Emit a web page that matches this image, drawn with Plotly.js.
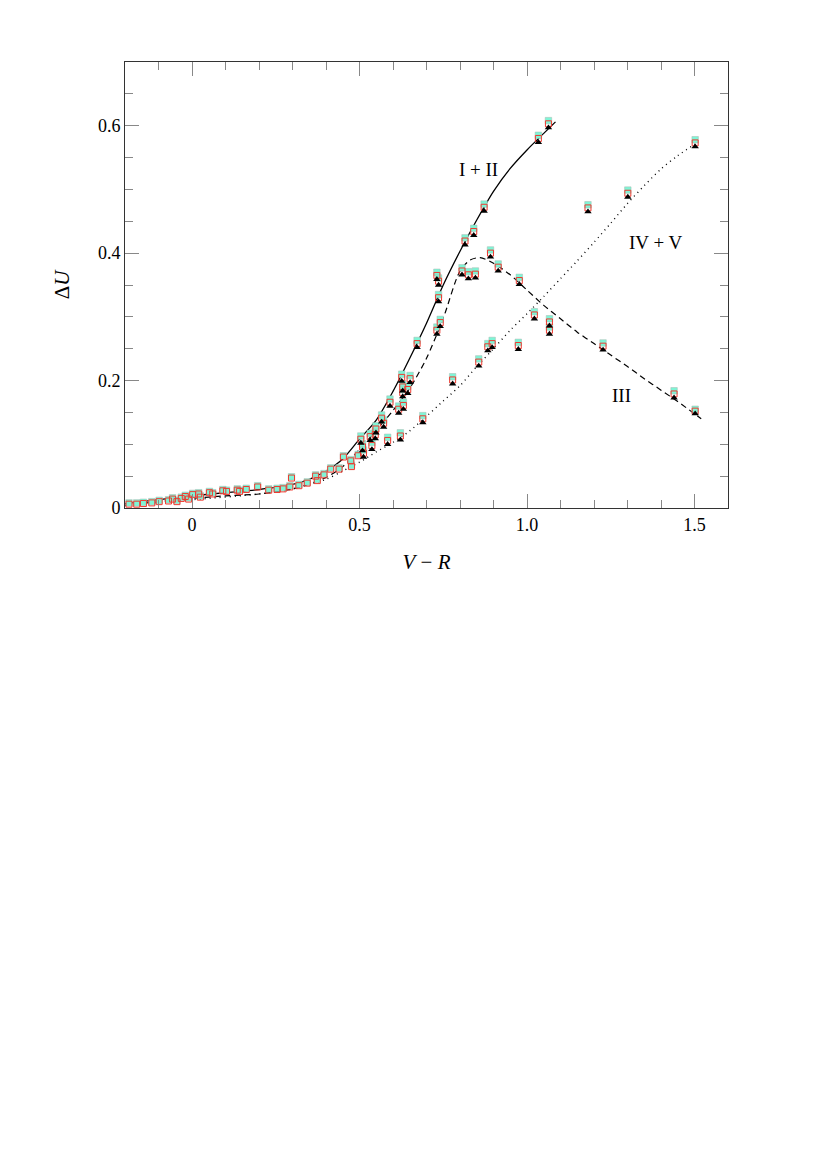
<!DOCTYPE html>
<html>
<head>
<meta charset="utf-8">
<script src="https://cdn.plot.ly/plotly-3.0.1.min.js"></script>
<style>html,body{margin:0;padding:0;background:#fff;}#chart{width:830px;height:1174px;}</style>
</head>
<body>
<div id="chart"></div>
<script>
// Stars, lower cluster (V-R, ΔU)
const xLow = [-0.188,-0.165,-0.145,-0.12,-0.098,-0.07,-0.058,-0.045,-0.032,-0.02,-0.01,0.002,0.02,0.025,0.052,0.062,0.092,0.103,0.135,0.142,0.162,0.196,0.229,0.254,0.272,0.292,0.297,0.319,0.344,0.369,0.374,0.394,0.414,0.439,0.452,0.474,0.476,0.496];
const yLowRed = [0.006,0.006,0.007,0.008,0.010,0.011,0.014,0.010,0.015,0.018,0.014,0.021,0.022,0.017,0.024,0.022,0.027,0.026,0.028,0.026,0.029,0.033,0.028,0.029,0.030,0.033,0.047,0.035,0.039,0.050,0.043,0.052,0.061,0.061,0.080,0.074,0.065,0.082];
const yLowCyan = [0.008,0.008,0.009,0.010,0.012,0.013,0.016,0.012,0.017,0.020,0.016,0.023,0.024,0.019,0.026,0.024,0.029,0.028,0.030,0.028,0.031,0.035,0.030,0.031,0.032,0.035,0.049,0.037,0.041,0.052,0.045,0.054,0.063,0.063,0.082,0.076,0.067,0.084];

// Stars, upper part
const xHigh = [0.504,0.509,0.512,0.532,0.537,0.547,0.549,0.566,0.572,0.584,0.591,0.617,0.622,0.626,0.629,0.629,0.631,0.644,0.651,0.672,0.689,0.731,0.731,0.736,0.736,0.741,0.778,0.806,0.815,0.825,0.841,0.846,0.856,0.872,0.883,0.891,0.896,0.914,0.974,0.977,1.022,1.034,1.064,1.067,1.067,1.182,1.227,1.301,1.439,1.502,1.502];
const yHighRed = [0.108,0.096,0.086,0.112,0.098,0.115,0.124,0.141,0.133,0.106,0.166,0.155,0.113,0.205,0.190,0.181,0.161,0.186,0.203,0.258,0.140,0.365,0.279,0.356,0.330,0.291,0.201,0.372,0.419,0.366,0.434,0.367,0.229,0.472,0.253,0.400,0.258,0.378,0.255,0.357,0.303,0.580,0.603,0.292,0.279,0.471,0.254,0.494,0.179,0.152,0.573];
const yHighCyan = [0.113,0.101,0.091,0.117,0.103,0.120,0.129,0.146,0.138,0.111,0.171,0.160,0.118,0.210,0.195,0.186,0.166,0.191,0.208,0.263,0.145,0.370,0.284,0.361,0.335,0.296,0.206,0.377,0.424,0.371,0.439,0.372,0.234,0.477,0.258,0.405,0.263,0.383,0.260,0.362,0.308,0.585,0.608,0.297,0.284,0.476,0.259,0.499,0.184,0.155,0.578];
const yHighTri = [0.102,0.090,0.080,0.106,0.092,0.109,0.118,0.135,0.127,0.100,0.160,0.149,0.107,0.199,0.184,0.175,0.155,0.180,0.197,0.252,0.134,0.359,0.273,0.350,0.324,0.285,0.195,0.366,0.413,0.360,0.428,0.361,0.223,0.466,0.247,0.394,0.252,0.372,0.249,0.351,0.297,0.574,0.597,0.286,0.273,0.465,0.248,0.488,0.173,0.148,0.567];

// Model curves
const xCurveI = [-0.2,-0.1,0,0.1,0.2,0.3,0.35,0.4,0.45,0.5,0.55,0.6,0.65,0.7,0.75,0.8,0.85,0.9,0.95,1.0,1.05,1.085];
const yCurveI = [0.007,0.013,0.019,0.024,0.029,0.037,0.045,0.058,0.077,0.108,0.138,0.183,0.235,0.290,0.350,0.403,0.452,0.497,0.533,0.562,0.588,0.606];
const xCurveIII = [-0.2,-0.1,0,0.1,0.2,0.3,0.4,0.45,0.5,0.55,0.6,0.65,0.7,0.75,0.8,0.83,0.86,0.9,0.95,1.0,1.05,1.1,1.15,1.2,1.25,1.3,1.35,1.4,1.45,1.52];
const yCurveIII = [0.004,0.010,0.015,0.019,0.022,0.030,0.048,0.065,0.092,0.122,0.153,0.188,0.235,0.298,0.372,0.389,0.393,0.384,0.366,0.342,0.318,0.297,0.276,0.258,0.240,0.222,0.203,0.185,0.167,0.140];
const xCurveIV = [-0.2,0,0.2,0.3,0.4,0.45,0.5,0.55,0.6,0.65,0.7,0.75,0.8,0.85,0.9,0.95,1.0,1.05,1.1,1.15,1.2,1.25,1.3,1.35,1.4,1.45,1.51];
const yCurveIV = [0.004,0.013,0.022,0.030,0.045,0.058,0.072,0.088,0.103,0.121,0.144,0.168,0.192,0.222,0.250,0.279,0.305,0.332,0.360,0.388,0.417,0.447,0.478,0.506,0.532,0.553,0.574];

const labelText = ["I + II", "III", "IV + V"];
const labelX = [0.855, 1.281, 1.386];
const labelY = [0.531, 0.176, 0.417];

const serif = "'Liberation Serif', 'Times New Roman', Times, serif";
const cyanMarker = {symbol: "square", size: 6.5, color: "#7ff5d6", line: {color: "#a8b8b0", width: 0.5}};
const redMarker = {symbol: "square-open", size: 6, color: "#ee3b30", line: {width: 1}};
const triMarker = {symbol: "triangle-up", size: 6.5, color: "#000"};

const traces = [
  {x: xCurveI, y: yCurveI, mode: "lines", line: {color: "#000", width: 1.3, shape: "spline", smoothing: 0.8}, hoverinfo: "skip"},
  {x: xCurveIII, y: yCurveIII, mode: "lines", line: {color: "#000", width: 1.2, dash: "6px,4px", shape: "spline", smoothing: 0.8}, hoverinfo: "skip"},
  {x: xCurveIV, y: yCurveIV, mode: "lines", line: {color: "#000", width: 1.4, dash: "1px,4px", shape: "spline", smoothing: 0.8}, hoverinfo: "skip"},
  {x: xLow, y: yLowCyan, mode: "markers", marker: cyanMarker},
  {x: xLow, y: yLowRed, mode: "markers", marker: redMarker},
  {x: xHigh, y: yHighCyan, mode: "markers", marker: cyanMarker},
  {x: xHigh, y: yHighRed, mode: "markers", marker: redMarker},
  {x: xHigh, y: yHighTri, mode: "markers", marker: triMarker}
];

const axisCommon = {
  showline: true, linecolor: "#333", linewidth: 1, mirror: "allticks",
  ticks: "inside", ticklen: 14, tickwidth: 1, tickcolor: "#888",
  showgrid: false, zeroline: false,
  tickfont: {family: serif, size: 18, color: "#000"}
};

const layout = {
  width: 830, height: 1174,
  margin: {l: 125, r: 102, t: 62, b: 666},
  paper_bgcolor: "#fff", plot_bgcolor: "#fff",
  showlegend: false,
  font: {family: serif, color: "#000"},
  xaxis: Object.assign({}, axisCommon, {
    range: [-0.2, 1.6], tickvals: [0, 0.5, 1.0, 1.5], ticktext: ["0", "0.5", "1.0", "1.5"],
    minor: {ticks: "inside", ticklen: 8, dtick: 0.1, tick0: 0, tickcolor: "#888", tickwidth: 1, showgrid: false},
    title: {text: "<i>V</i> − <i>R</i>", font: {family: serif, size: 21}, standoff: 20}
  }),
  yaxis: Object.assign({}, axisCommon, {
    range: [0, 0.7], tickvals: [0, 0.2, 0.4, 0.6], ticktext: ["0", "0.2", "0.4", "0.6"],
    minor: {ticks: "inside", ticklen: 8, dtick: 0.05, tick0: 0, tickcolor: "#888", tickwidth: 1, showgrid: false},
    title: {text: "Δ<i>U</i>", font: {family: serif, size: 21}, standoff: 22}
  }),
  annotations: labelText.map((t, i) => ({
    x: labelX[i], y: labelY[i], xref: "x", yref: "y", text: t, showarrow: false,
    font: {family: serif, size: 19, color: "#000"}
  }))
};

Plotly.newPlot("chart", traces, layout, {staticPlot: true});
</script>
</body>
</html>
